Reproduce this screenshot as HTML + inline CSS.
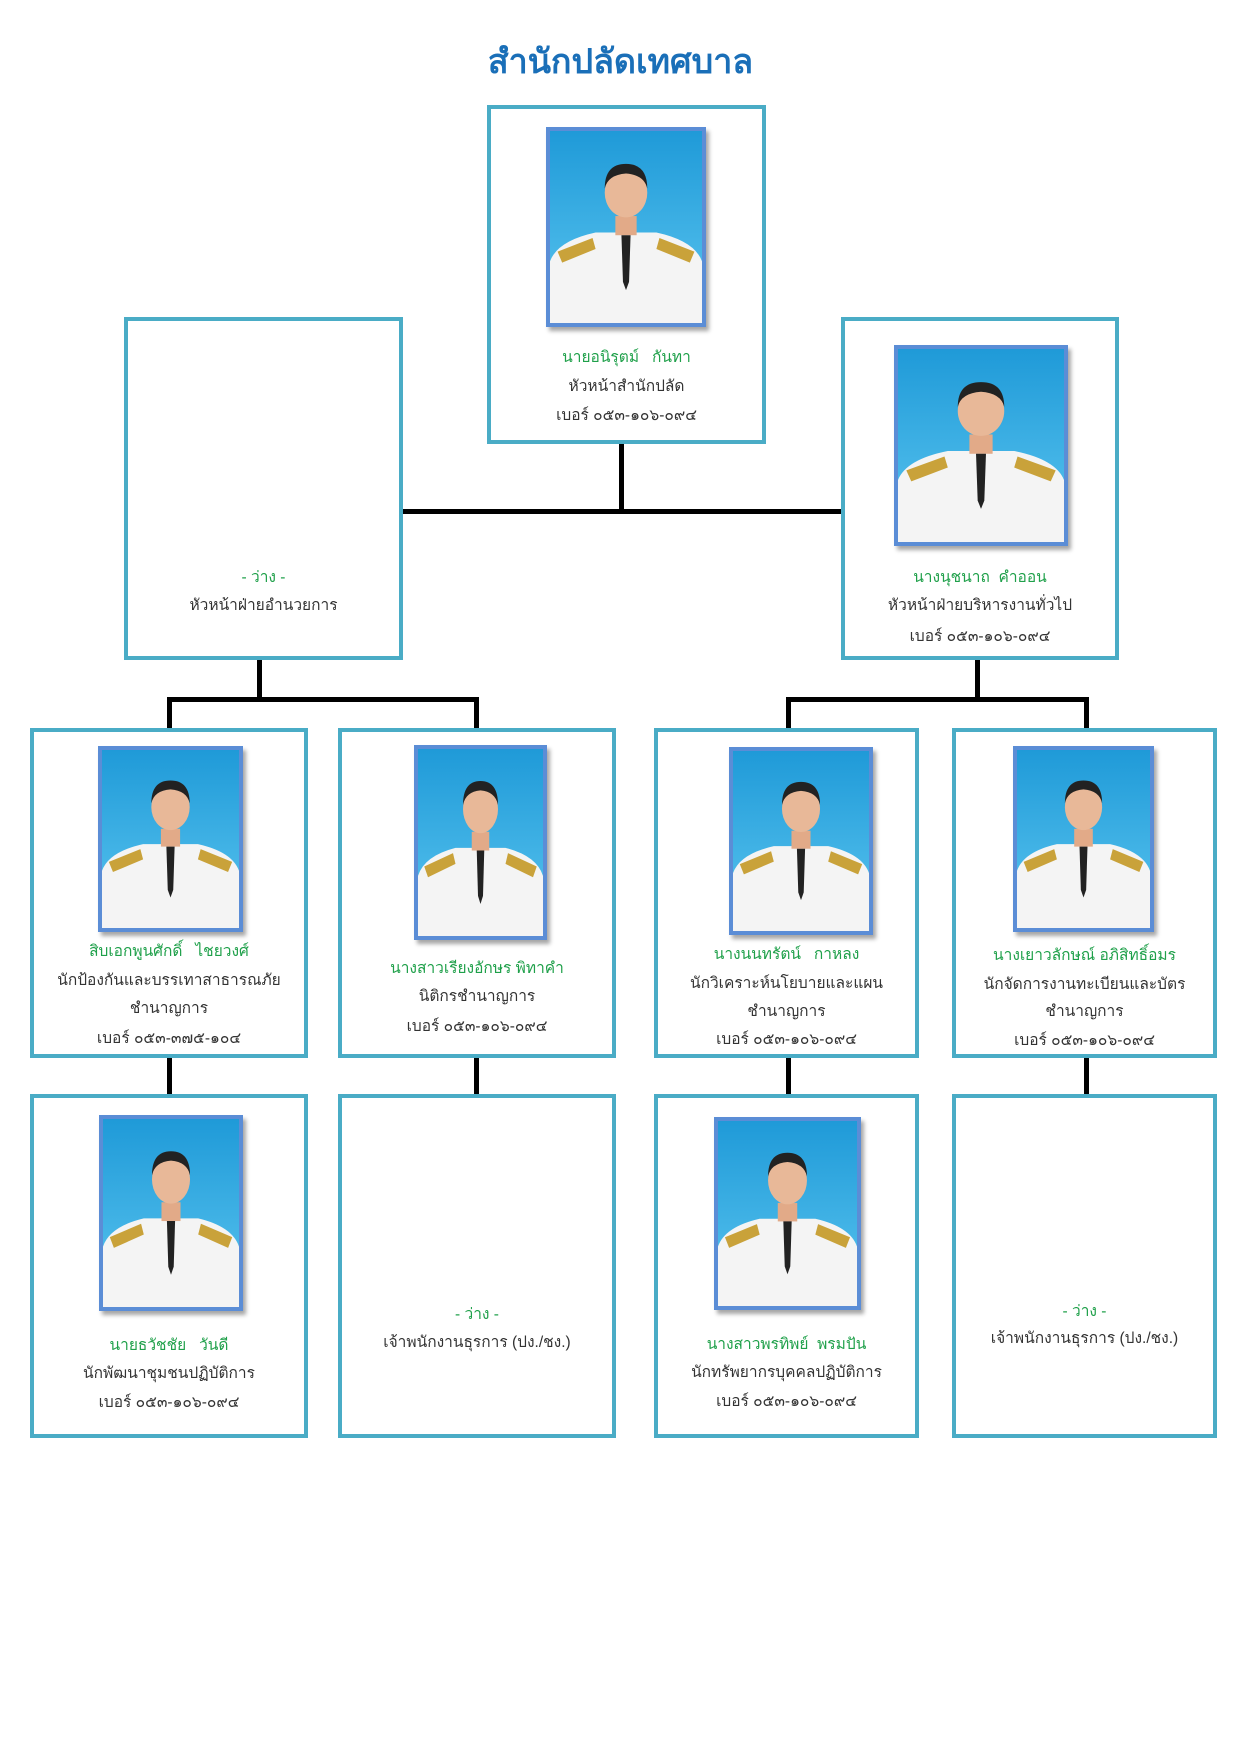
<!DOCTYPE html>
<html><head><meta charset="utf-8">
<style>
html,body{margin:0;padding:0;background:#fff;}
body{width:1241px;height:1755px;position:relative;overflow:hidden;font-family:"Liberation Sans","Noto Sans CJK SC",sans-serif;}
.box{position:absolute;border:4px solid #4aacc6;box-sizing:border-box;background:#fff;}
.ln{position:absolute;background:#000;}
.ph{position:absolute;border:4px solid #5b8dd6;box-sizing:border-box;box-shadow:3px 4px 4px rgba(0,0,0,.35);overflow:hidden;}
.ph svg{display:block;width:100%;height:100%;}
.t{position:absolute;text-align:center;font-size:15.5px;line-height:22px;height:22px;color:#333;white-space:nowrap;}
.g{color:#1fa04a;}
</style></head><body>
<svg width="0" height="0" style="position:absolute">
<defs>
<linearGradient id="bg" x1="0" y1="0" x2="0" y2="1"><stop offset="0" stop-color="#1f9ad8"/><stop offset="1" stop-color="#5cc6f0"/></linearGradient>
<symbol id="p" viewBox="0 0 100 140" preserveAspectRatio="none">
<rect width="100" height="140" fill="url(#bg)"/>
<path d="M0 140 L0 95 Q5 80 30 74 L70 74 Q95 80 100 95 L100 140Z" fill="#f4f4f4"/>
<rect x="43" y="62" width="14" height="14" fill="#e2aa88"/>
<ellipse cx="50" cy="45" rx="14" ry="18" fill="#e8b898"/>
<path d="M36 42 Q36 24 50 24 Q64 24 64 42 Q62 32 50 31 Q38 32 36 42Z" fill="#222"/>
<path d="M47 76 L53 76 L52 110 L50 116 L48 110Z" fill="#222"/>
<path d="M5 88 L28 78 L30 86 L8 96Z M95 88 L72 78 L70 86 L92 96Z" fill="#c9a23a"/>
</symbol>
</defs></svg>

<div class="t" style="left:0;width:1241px;top:38px;height:50px;line-height:50px;font-size:34px;color:#1a6fb8;font-weight:bold;font-family:'Liberation Serif','Noto Serif CJK SC',serif;">สำนักปลัดเทศบาล</div>

<div class="ln" style="left:619px;top:444px;width:5px;height:69px;"></div>
<div class="ln" style="left:403px;top:509px;width:438px;height:5px;"></div>
<div class="ln" style="left:257px;top:660px;width:5px;height:40px;"></div>
<div class="ln" style="left:975px;top:660px;width:5px;height:40px;"></div>
<div class="ln" style="left:167px;top:697px;width:312px;height:5px;"></div>
<div class="ln" style="left:786px;top:697px;width:303px;height:5px;"></div>
<div class="ln" style="left:167px;top:697px;width:5px;height:32px;"></div>
<div class="ln" style="left:474px;top:697px;width:5px;height:32px;"></div>
<div class="ln" style="left:786px;top:697px;width:5px;height:32px;"></div>
<div class="ln" style="left:1084px;top:697px;width:5px;height:32px;"></div>
<div class="ln" style="left:167px;top:1056px;width:5px;height:40px;"></div>
<div class="ln" style="left:474px;top:1056px;width:5px;height:40px;"></div>
<div class="ln" style="left:786px;top:1056px;width:5px;height:40px;"></div>
<div class="ln" style="left:1084px;top:1056px;width:5px;height:40px;"></div>

<div class="box" style="left:487px;top:105px;width:279px;height:339px;"></div>
<div class="ph" style="left:546px;top:127px;width:160px;height:200px;"><svg><use href="#p"/></svg></div>
<div class="t g" style="left:487px;width:279px;top:347px;">นายอนิรุตม์&nbsp;&nbsp; กันทา</div>
<div class="t" style="left:487px;width:279px;top:376px;">หัวหน้าสำนักปลัด</div>
<div class="t" style="left:487px;width:279px;top:405px;">เบอร์ ๐๕๓-๑๐๖-๐๙๔</div>

<div class="box" style="left:124px;top:317px;width:279px;height:343px;"></div>
<div class="t g" style="left:124px;width:279px;top:567px;">- ว่าง -</div>
<div class="t" style="left:124px;width:279px;top:595px;">หัวหน้าฝ่ายอำนวยการ</div>

<div class="box" style="left:841px;top:317px;width:278px;height:343px;"></div>
<div class="ph" style="left:894px;top:345px;width:174px;height:201px;"><svg><use href="#p"/></svg></div>
<div class="t g" style="left:841px;width:278px;top:567px;">นางนุชนาถ&nbsp; คำออน</div>
<div class="t" style="left:841px;width:278px;top:595px;">หัวหน้าฝ่ายบริหารงานทั่วไป</div>
<div class="t" style="left:841px;width:278px;top:626px;">เบอร์ ๐๕๓-๑๐๖-๐๙๔</div>

<div class="box" style="left:30px;top:728px;width:278px;height:330px;"></div>
<div class="ph" style="left:98px;top:746px;width:145px;height:186px;"><svg><use href="#p"/></svg></div>
<div class="t g" style="left:30px;width:278px;top:941px;">สิบเอกพูนศักดิ์&nbsp;&nbsp; ไชยวงศ์</div>
<div class="t" style="left:30px;width:278px;top:970px;">นักป้องกันและบรรเทาสาธารณภัย</div>
<div class="t" style="left:30px;width:278px;top:998px;">ชำนาญการ</div>
<div class="t" style="left:30px;width:278px;top:1028px;">เบอร์ ๐๕๓-๓๗๕-๑๐๔</div>

<div class="box" style="left:338px;top:728px;width:278px;height:330px;"></div>
<div class="ph" style="left:414px;top:745px;width:133px;height:195px;"><svg><use href="#p"/></svg></div>
<div class="t g" style="left:338px;width:278px;top:958px;">นางสาวเรียงอักษร พิทาคำ</div>
<div class="t" style="left:338px;width:278px;top:986px;">นิติกรชำนาญการ</div>
<div class="t" style="left:338px;width:278px;top:1016px;">เบอร์ ๐๕๓-๑๐๖-๐๙๔</div>

<div class="box" style="left:654px;top:728px;width:265px;height:330px;"></div>
<div class="ph" style="left:729px;top:747px;width:144px;height:188px;"><svg><use href="#p"/></svg></div>
<div class="t g" style="left:654px;width:265px;top:944px;">นางนนทรัตน์&nbsp;&nbsp; กาหลง</div>
<div class="t" style="left:654px;width:265px;top:973px;">นักวิเคราะห์นโยบายและแผน</div>
<div class="t" style="left:654px;width:265px;top:1001px;">ชำนาญการ</div>
<div class="t" style="left:654px;width:265px;top:1029px;">เบอร์ ๐๕๓-๑๐๖-๐๙๔</div>

<div class="box" style="left:952px;top:728px;width:265px;height:330px;"></div>
<div class="ph" style="left:1013px;top:746px;width:141px;height:186px;"><svg><use href="#p"/></svg></div>
<div class="t g" style="left:952px;width:265px;top:945px;">นางเยาวลักษณ์ อภิสิทธิ์อมร</div>
<div class="t" style="left:952px;width:265px;top:974px;">นักจัดการงานทะเบียนและบัตร</div>
<div class="t" style="left:952px;width:265px;top:1001px;">ชำนาญการ</div>
<div class="t" style="left:952px;width:265px;top:1030px;">เบอร์ ๐๕๓-๑๐๖-๐๙๔</div>

<div class="box" style="left:30px;top:1094px;width:278px;height:344px;"></div>
<div class="ph" style="left:99px;top:1115px;width:144px;height:196px;"><svg><use href="#p"/></svg></div>
<div class="t g" style="left:30px;width:278px;top:1335px;">นายธวัชชัย&nbsp;&nbsp; วันดี</div>
<div class="t" style="left:30px;width:278px;top:1363px;">นักพัฒนาชุมชนปฏิบัติการ</div>
<div class="t" style="left:30px;width:278px;top:1392px;">เบอร์ ๐๕๓-๑๐๖-๐๙๔</div>

<div class="box" style="left:338px;top:1094px;width:278px;height:344px;"></div>
<div class="t g" style="left:338px;width:278px;top:1304px;">- ว่าง -</div>
<div class="t" style="left:338px;width:278px;top:1332px;">เจ้าพนักงานธุรการ (ปง./ชง.)</div>

<div class="box" style="left:654px;top:1094px;width:265px;height:344px;"></div>
<div class="ph" style="left:714px;top:1117px;width:147px;height:193px;"><svg><use href="#p"/></svg></div>
<div class="t g" style="left:654px;width:265px;top:1334px;">นางสาวพรทิพย์&nbsp; พรมปัน</div>
<div class="t" style="left:654px;width:265px;top:1362px;">นักทรัพยากรบุคคลปฏิบัติการ</div>
<div class="t" style="left:654px;width:265px;top:1391px;">เบอร์ ๐๕๓-๑๐๖-๐๙๔</div>

<div class="box" style="left:952px;top:1094px;width:265px;height:344px;"></div>
<div class="t g" style="left:952px;width:265px;top:1301px;">- ว่าง -</div>
<div class="t" style="left:952px;width:265px;top:1328px;">เจ้าพนักงานธุรการ (ปง./ชง.)</div>
</body></html>
